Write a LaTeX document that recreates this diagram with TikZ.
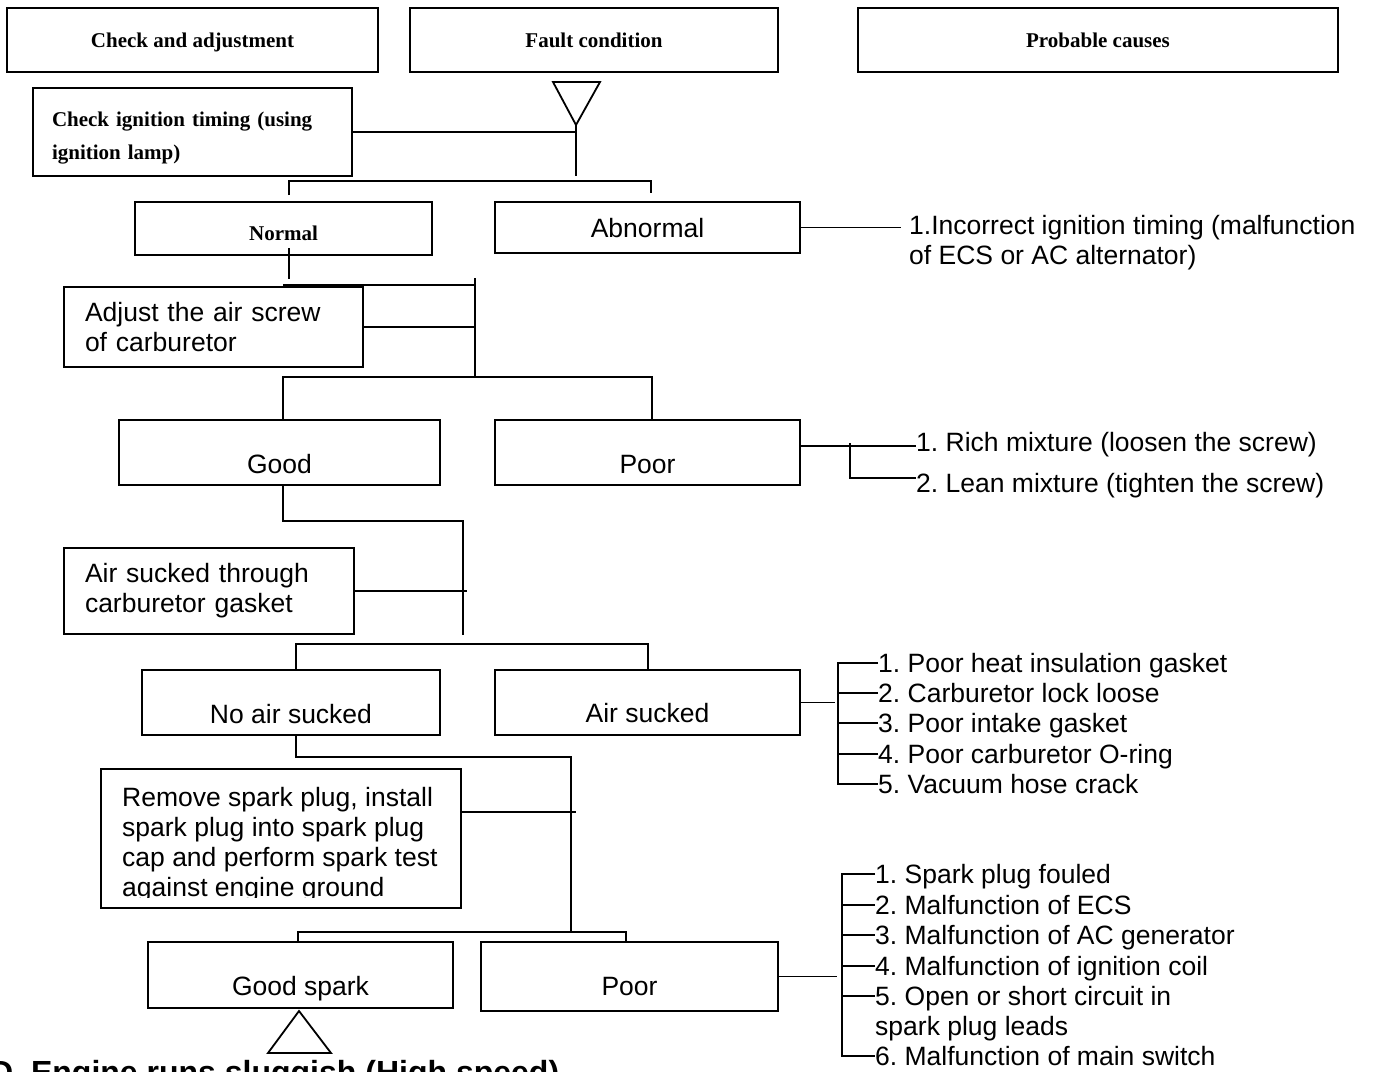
\documentclass[tikz,border=0pt]{standalone}
\usepackage{fontspec}
\setmainfont{Liberation Serif}
\newfontfamily\arialf{Liberation Sans}
\newcommand\hfont{\bfseries\fontsize{21}{33}\selectfont}
\newcommand\tfont{\arialf\fontsize{26.5}{30}\selectfont}
\newcommand\ttlfont{\arialf\bfseries\fontsize{32}{36}\selectfont}
\tikzset{
  hblk/.style={rectangle, draw, line width=1.8pt, font=\hfont, inner sep=0pt, minimum height=64pt, text height=19pt, text depth=5pt},
  cblk/.style={rectangle, draw, line width=1.8pt, font=\tfont, align=left, inner ysep=0pt, inner xsep=21pt},
  rblk/.style={rectangle, draw, line width=1.8pt, font=\tfont, inner sep=0pt, text height=19pt, text depth=0pt},
  ctxt/.style={font=\tfont, inner sep=0pt, anchor=west, text height=19pt, text depth=0pt},
  ln/.style={line width=1.8pt},
}
\begin{document}
\frenchspacing
\begin{tikzpicture}[x=1pt, y=-1pt]
            \useasboundingbox (0,0) rectangle (1375,1071);
            \fill[white] (0,0) rectangle (1375,1071);
            \node[hblk, minimum width=371pt](hA) at (192.5,40){Check and adjustment};
            \node[hblk, minimum width=368pt](hB) at (594,40){Fault condition};
            \node[hblk, minimum width=480pt](hC) at (1098,40){Probable causes};
            \node[cblk, font=\hfont, inner xsep=19pt, text width=281pt, minimum height=88pt](chk) at (192.5,132){\rule{0pt}{27pt}Check ignition timing (using\\ignition lamp)};
            \node[rblk, font=\hfont, text height=23pt, minimum width=297pt, minimum height=53pt](nrm) at (283.5,228.5){Normal};
            \node[rblk, minimum width=305pt, minimum height=51pt](abn) at (647.5,227.5){Abnormal};
            \node[ctxt](inc1) at (909,225){1.Incorrect ignition timing (malfunction};
            \node[ctxt](inc2) at (909,255){of ECS or AC alternator)};
            \node[cblk, text width=257pt, minimum height=80pt](adj) at (213.5,327){Adjust the air screw\\of carburetor};
            \node[rblk, text height=42pt, minimum width=321pt, minimum height=65pt](gd) at (279.5,452.5){Good};
            \node[rblk, text height=42pt, minimum width=305pt, minimum height=65pt](pr) at (647.5,452.5){Poor};
            \node[ctxt](rich) at (916,442){1. Rich mixture (loosen the screw)};
            \node[ctxt](lean) at (916,483){2. Lean mixture (tighten the screw)};
            \node[cblk, text width=248pt, minimum height=86pt](ast) at (209,591){Air sucked through\\carburetor gasket};
            \node[rblk, text height=42pt, minimum width=298pt, minimum height=65pt](nas) at (291,702.5){No air sucked};
            \node[rblk, text height=40pt, minimum width=305pt, minimum height=65pt](airs) at (647.5,702.5){Air sucked};
            \node[ctxt](a1) at (878,663){1. Poor heat insulation gasket};
            \node[ctxt](a2) at (878,693){2. Carburetor lock loose};
            \node[ctxt](a3) at (878,723){3. Poor intake gasket};
            \node[ctxt](a4) at (878,754){4. Poor carburetor O-ring};
            \node[ctxt](a5) at (878,784){5. Vacuum hose crack};
            \node[rblk, minimum width=360pt, minimum height=139pt](rmv) at (281,838.5){};
            \begin{scope}
              \clip (101,769) rectangle (461,897);
              \node[font=\tfont, align=left, inner sep=0pt, anchor=north west](rmvt) at (122,787.5){Remove spark plug, install\\spark plug into spark plug\\cap and perform spark test\\against engine ground};
            \end{scope}
            \node[rblk, text height=41pt, minimum width=305pt, minimum height=66pt](gsp) at (300.5,975){Good spark};
            \node[rblk, text height=38pt, minimum width=297pt, minimum height=69pt](pr2) at (629.5,976.5){Poor};
            \node[ctxt](s1) at (875,874){1. Spark plug fouled};
            \node[ctxt](s2) at (875,905){2. Malfunction of ECS};
            \node[ctxt](s3) at (875,935){3. Malfunction of AC generator};
            \node[ctxt](s4) at (875,966){4. Malfunction of ignition coil};
            \node[ctxt](s5) at (875,996){5. Open or short circuit in};
            \node[ctxt](s5b) at (875,1026){spark plug leads};
            \node[ctxt](s6) at (875,1056){6. Malfunction of main switch};
            \node[font=\ttlfont, inner sep=0pt, anchor=base west](ttl) at (-10,1083){D. Engine runs sluggish (High speed)};
            \coordinate(tap) at (576,125); \coordinate(tbot) at (576,176);
            \coordinate(b1l) at (289,181); \coordinate(b1r) at (651,181);
            \coordinate(n1) at (289,248);
            \coordinate(j2l) at (283,285); \coordinate(j2r) at (476,285);
            \coordinate(v2t) at (475,278); \coordinate(v2b) at (475,377);
            \coordinate(b3l) at (283,377); \coordinate(b3r) at (652,377);
            \coordinate(rw) at ([yshift=-4pt]rich.west); \coordinate(lw) at ([yshift=5pt]lean.west); \coordinate(pk) at (850,443);
            \coordinate(g1) at (283,521); \coordinate(g2) at (463,521); \coordinate(g3) at (463,635);
            \coordinate(b4l) at (296,644); \coordinate(b4r) at (648,644);
            \coordinate(b5l) at (296,757); \coordinate(b5r) at (571,757); \coordinate(b6c) at (571,932);
            \coordinate(rj) at (576,812);
            \coordinate(b6l) at (298,932); \coordinate(b6r) at (626,932);
            \draw[ln](553,82)--(600,82)--(tap)--cycle;\draw[ln](tap)--(tbot);\draw[ln](chk.east)--(chk.east -| tap);
            \draw[ln](b1l)++(0,14)--(b1l)--(b1r)--++(0,12);
            \draw[ln](n1)--++(0,31);\draw[ln](j2l)--(j2r);\draw[ln](v2t)--(v2b);\draw[ln](adj.east)--(adj.east -| v2t);
            \draw[ln](gd.north -| b3l)--(b3l)--(b3r)--(pr.north -| b3r);
            \draw[ln](abn.east)--++(100,0);
            \draw[ln](rw -| pr.east)--(rw);\draw[ln](pk)|-(lw);
            \draw[ln](gd.south -| g1)--(g1)--(g2)--(g3);\draw[ln](ast.east)--++(112,0);
            \draw[ln](nas.north -| b4l)--(b4l)--(b4r)--(airs.north -| b4r);
            \draw[ln](airs.east)--++(34,0);
            \draw[ln](a1.west)--++(-40,0)|-(a5.west);\draw[ln](a2.west)--++(-40,0);\draw[ln](a3.west)--++(-40,0);\draw[ln](a4.west)--++(-40,0);
            \draw[ln](nas.south -| b5l)--(b5l)--(b5r)--(b6c);\draw[ln](rj -| rmv.east)--(rj);
            \draw[ln](gsp.north -| b6l)--(b6l)--(b6r)--(pr2.north -| b6r);
            \draw[ln](pr2.east)--++(58,0);
            \draw[ln](s1.west)--++(-33,0)|-(s6.west);\draw[ln](s2.west)--++(-33,0);\draw[ln](s3.west)--++(-33,0);\draw[ln](s4.west)--++(-33,0);\draw[ln](s5.west)--++(-33,0);
            \draw[ln](299,1011)--(331,1053)--(268,1053)--cycle;
        \end{tikzpicture}
\end{document}
